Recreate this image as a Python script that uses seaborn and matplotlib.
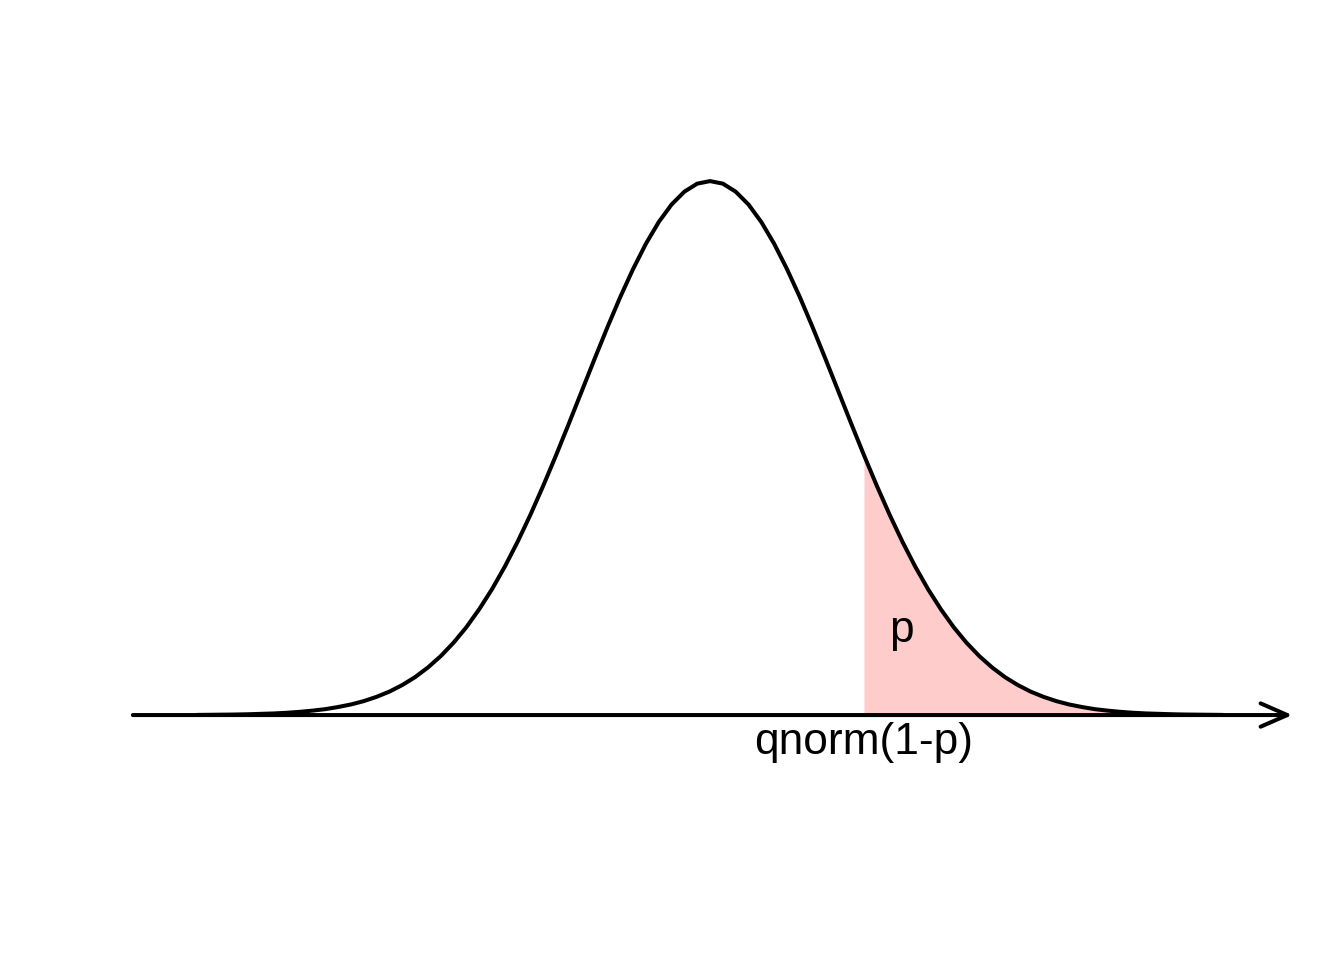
import numpy as np
import pandas as pd
import seaborn as sns
import matplotlib
matplotlib.use("Agg")
import matplotlib.pyplot as plt

# standard normal density at steps of 0.1
x_vals = [-4.0, -3.9, -3.8, -3.7, -3.6, -3.5, -3.4, -3.3, -3.2, -3.1,
          -3.0, -2.9, -2.8, -2.7, -2.6, -2.5, -2.4, -2.3, -2.2, -2.1,
          -2.0, -1.9, -1.8, -1.7, -1.6, -1.5, -1.4, -1.3, -1.2, -1.1,
          -1.0, -0.9, -0.8, -0.7, -0.6, -0.5, -0.4, -0.3, -0.2, -0.1,
          0.0, 0.1, 0.2, 0.3, 0.4, 0.5, 0.6, 0.7, 0.8, 0.9,
          1.0, 1.1, 1.2, 1.3, 1.4, 1.5, 1.6, 1.7, 1.8, 1.9,
          2.0, 2.1, 2.2, 2.3, 2.4, 2.5, 2.6, 2.7, 2.8, 2.9,
          3.0, 3.1, 3.2, 3.3, 3.4, 3.5, 3.6, 3.7, 3.8, 3.9, 4.0]
density = [0.0001, 0.0002, 0.0003, 0.0004, 0.0006, 0.0009, 0.0012, 0.0017, 0.0024, 0.0033,
           0.0044, 0.0060, 0.0079, 0.0104, 0.0136, 0.0175, 0.0224, 0.0283, 0.0355, 0.0440,
           0.0540, 0.0656, 0.0790, 0.0940, 0.1109, 0.1295, 0.1497, 0.1714, 0.1942, 0.2179,
           0.2420, 0.2661, 0.2897, 0.3123, 0.3332, 0.3521, 0.3683, 0.3814, 0.3910, 0.3970,
           0.3989, 0.3970, 0.3910, 0.3814, 0.3683, 0.3521, 0.3332, 0.3123, 0.2897, 0.2661,
           0.2420, 0.2179, 0.1942, 0.1714, 0.1497, 0.1295, 0.1109, 0.0940, 0.0790, 0.0656,
           0.0540, 0.0440, 0.0355, 0.0283, 0.0224, 0.0175, 0.0136, 0.0104, 0.0079, 0.0060,
           0.0044, 0.0033, 0.0024, 0.0017, 0.0012, 0.0009, 0.0006, 0.0004, 0.0003, 0.0002, 0.0001]

q_cut = 1.2          # qnorm(1-p)
axis_range = [-4.5, 4.54]
cut_label = "qnorm(1-p)"
area_label = "p"

sns.set_theme(style="white")
plt.rcParams["font.family"] = ["Liberation Sans", "DejaVu Sans"]

df = pd.DataFrame({"x": x_vals, "density": density})
tail = df[df["x"] >= q_cut - 1e-9]

fig = plt.figure(figsize=(13.44, 9.6), dpi=100)
ax = fig.add_axes([0, 0, 1, 1])

# shaded upper tail
ax.fill_between(tail["x"], 0, tail["density"], color="#FFCCCC", lw=0)

# x axis with arrow
ax.annotate("", xy=(axis_range[1], 0), xytext=(axis_range[0], 0),
            arrowprops=dict(arrowstyle="->,head_length=1.6,head_width=0.7",
                            lw=2.9, color="black", capstyle="round",
                            shrinkA=0, shrinkB=0))

sns.lineplot(data=df, x="x", y="density", ax=ax, color="black", lw=2.9,
             solid_capstyle="round", solid_joinstyle="round")

ax.text(q_cut, -0.0202, cut_label, ha="center", va="center",
        fontsize=31.9, color="black")
ax.text(1.49, 0.0635, area_label, ha="center", va="center",
        fontsize=31.9, color="black")

ax.set_xlim(-5.536, 4.943)
ax.set_ylim(-0.1830, 0.5342)
ax.axis("off")

fig.savefig("out.png", dpi=100)
